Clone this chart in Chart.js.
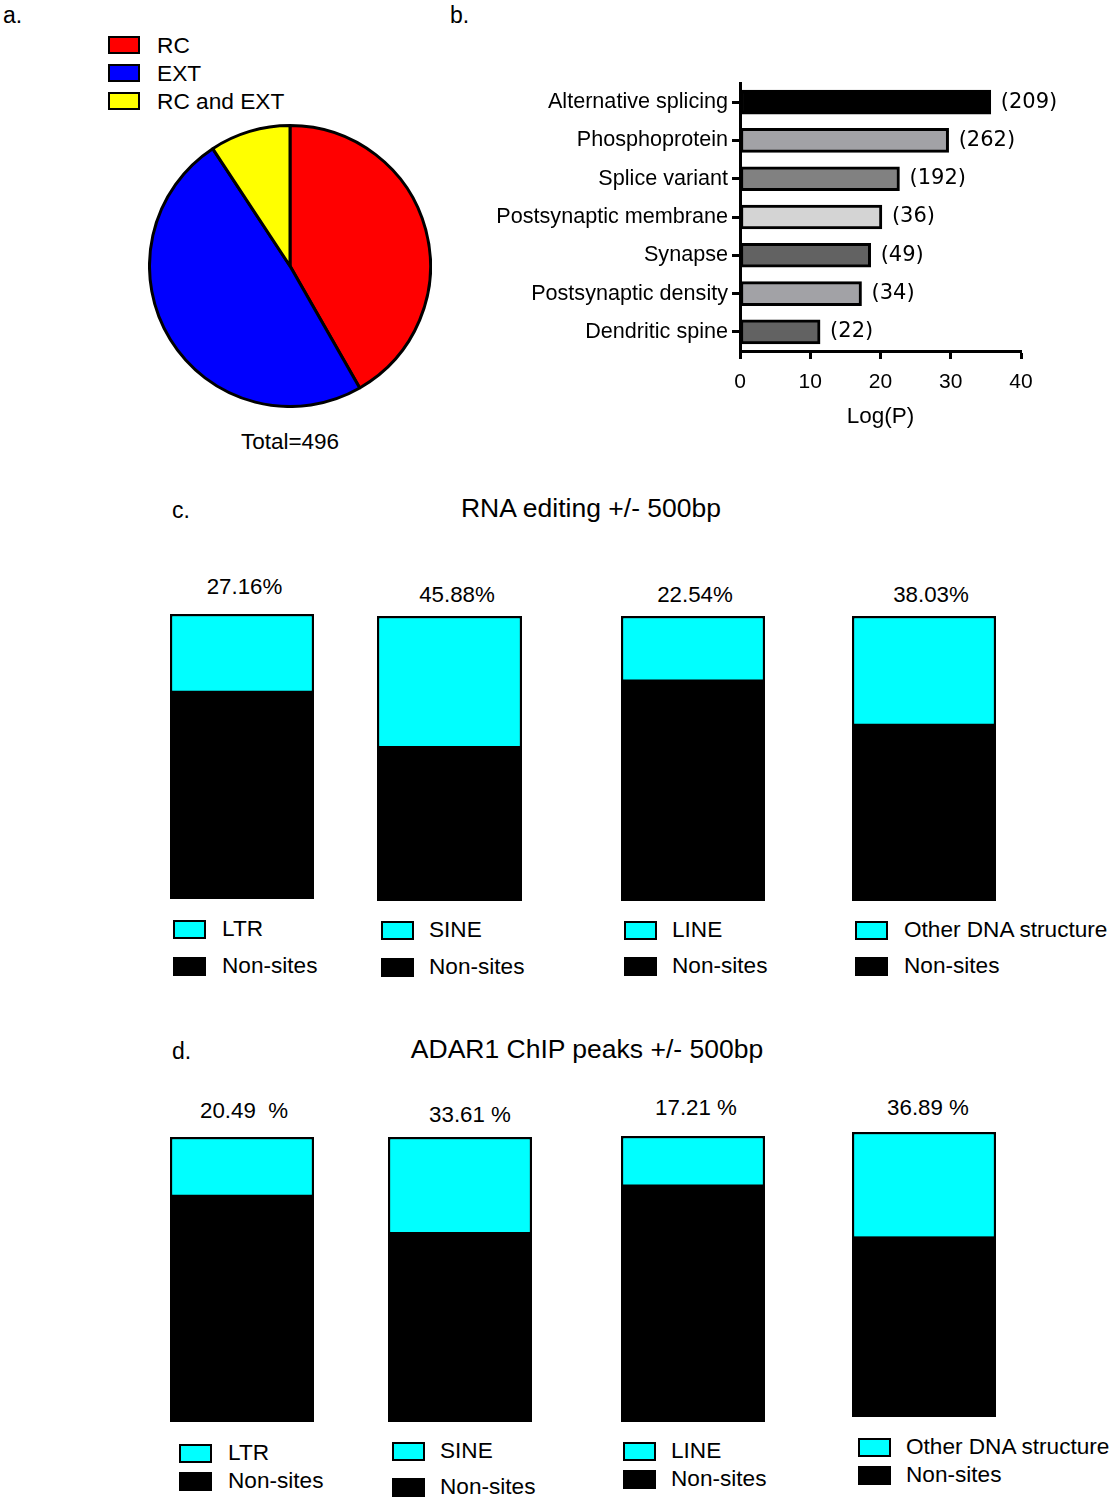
<!DOCTYPE html>
<html><head><meta charset="utf-8">
<script src="https://cdn.jsdelivr.net/npm/chart.js@4/dist/chart.umd.min.js"></script>
<style>
html,body{margin:0;padding:0;background:#fff;}
#page{position:relative;width:1112px;height:1500px;overflow:hidden;font-family:"Liberation Sans",Arial,sans-serif;color:#000;}
.t{position:absolute;white-space:pre;}
.box{position:absolute;box-sizing:border-box;border:2px solid #000;}
canvas{position:absolute;}
</style></head><body><div id="page"></div>
<script>
// ---------- DATA ----------
// Panel a
const pieLabels = ['RC', 'EXT', 'RC and EXT'];
const pieValues = [207, 243, 46];
const pieColors = ['#ff0000', '#0000ff', '#ffff00'];
const pieTotalText = 'Total=496';
// Panel b
const goTerms = ['Alternative splicing', 'Phosphoprotein', 'Splice variant', 'Postsynaptic membrane', 'Synapse', 'Postsynaptic density', 'Dendritic spine'];
const goLogP = [35.7, 29.7, 22.7, 20.2, 18.6, 17.3, 11.4];
const goCounts = [209, 262, 192, 36, 49, 34, 22];
const goColors = ['#000000', '#a2a2a6', '#818181', '#d4d4d4', '#626262', '#a2a2a6', '#626262'];
const logPTicks = [0, 10, 20, 30, 40];
const logPTitle = 'Log(P)';
// Panels c and d
const repeatClasses = ['LTR', 'SINE', 'LINE', 'Other DNA structure'];
const nonSiteLabel = 'Non-sites';
const editingTitle = 'RNA editing +/- 500bp';
const editingSites = [27.16, 45.88, 22.54, 38.03];
const editingNonSites = [72.84, 54.12, 77.46, 61.97];
const editingPctLabels = ['27.16%', '45.88%', '22.54%', '38.03%'];
const chipTitle = 'ADAR1 ChIP peaks +/- 500bp';
const chipSites = [20.49, 33.61, 17.21, 36.89];
const chipNonSites = [79.51, 66.39, 82.79, 63.11];
const chipPctLabels = ['20.49  %', '33.61 %', '17.21 %', '36.89 %'];

// ---------- LAYOUT ----------
const cBarBoxes = [[170,614,144,285],[377,616,145,285],[621,616,144,285],[852,616,144,285]];
const dBarBoxes = [[170,1137,144,285],[388,1137,144,285],[621,1136,144,286],[852,1132,144,285]];
const cPctPos = [[244.5,587],[457,595],[695,595],[931,595]];
const dPctPos = [[244,1111],[470,1115],[696,1108],[928,1108]];
// [boxX, siteY, nonY, textX]
const cLegPos = [[173,929,966,222],[381,930,967,429],[624,930,966,672],[855,930,966,904]];
const dLegPos = [[179,1453,1481,228],[392,1451,1487,440],[623,1451,1479,671],[858,1447,1475,906]];

// ---------- HELPERS ----------
const page = document.getElementById('page');
function text(str, x, cy, size, opts) {
  opts = opts || {};
  const d = document.createElement('div');
  d.className = 't';
  d.textContent = str;
  const lh = Math.round(size * 1.15);
  d.style.fontSize = size + 'px';
  d.style.lineHeight = lh + 'px';
  d.style.top = (cy - lh / 2) + 'px';
  d.style.left = x + 'px';
  if (opts.center) d.style.transform = 'translateX(-50%)';
  if (opts.font) d.style.fontFamily = opts.font;
  page.appendChild(d);
}
function box(x, cy, w, h, color) {
  const d = document.createElement('div');
  d.className = 'box';
  d.style.left = x + 'px'; d.style.top = (cy - h / 2) + 'px';
  d.style.width = w + 'px'; d.style.height = h + 'px';
  d.style.background = color;
  page.appendChild(d);
}
function makeCanvas(x, y, w, h) {
  const c = document.createElement('canvas');
  c.width = w; c.height = h;
  c.style.left = x + 'px'; c.style.top = y + 'px';
  c.style.width = w + 'px'; c.style.height = h + 'px';
  page.appendChild(c);
  return c;
}

Chart.defaults.font.family = '"Liberation Sans", Arial, sans-serif';
Chart.defaults.color = '#000';

// ---------- PANEL LABELS ----------
text('a.', 3, 15, 23);
text('b.', 450, 15, 23);
text('c.', 172, 510, 23);
text('d.', 172, 1051, 23);

// ---------- PANEL A: PIE ----------
pieLabels.forEach((lab, i) => {
  box(108, 45 + i * 28.2, 32, 18, pieColors[i]);
  text(lab, 157, 45 + i * 28.2, 22.7);
});
new Chart(makeCanvas(148, 124, 284, 284), {
  type: 'pie',
  data: { labels: pieLabels, datasets: [{ data: pieValues, backgroundColor: pieColors, borderColor: '#000', borderWidth: 3 }] },
  options: { responsive: false, devicePixelRatio: 1, animation: false, layout: { padding: 0 },
    plugins: { legend: { display: false }, tooltip: { enabled: false } } }
});
text(pieTotalText, 290, 442, 22.5, { center: true });

// ---------- PANEL B: HORIZONTAL BARS ----------
const countLabelPlugin = {
  id: 'countLabels',
  afterDatasetsDraw(chart) {
    const ctx = chart.ctx;
    const meta = chart.getDatasetMeta(0);
    ctx.save();
    ctx.font = '21px "DejaVu Sans"';
    ctx.fillStyle = '#000';
    ctx.textBaseline = 'middle';
    ctx.textAlign = 'left';
    meta.data.forEach((bar, i) => { ctx.fillText('(' + goCounts[i] + ')', bar.x + 10, bar.y); });
    ctx.restore();
  }
};
new Chart(makeCanvas(480, 60, 600, 380), {
  type: 'bar',
  data: { labels: goTerms, datasets: [{ data: goLogP, backgroundColor: goColors, borderColor: '#000', borderWidth: 3, borderSkipped: false, barThickness: 24 }] },
  options: {
    indexAxis: 'y', responsive: false, devicePixelRatio: 1, animation: false,
    layout: { padding: { left: 0, right: 59, top: 23, bottom: 6 } },
    plugins: { legend: { display: false }, tooltip: { enabled: false } },
    scales: {
      x: {
        type: 'linear', min: logPTicks[0], max: logPTicks[logPTicks.length - 1],
        afterBuildTicks(s) { s.ticks = logPTicks.map(v => ({ value: v })); },
        ticks: { font: { size: 21 }, color: '#000', padding: 11 },
        grid: { drawOnChartArea: false, drawTicks: true, tickLength: 8, tickWidth: 3, tickColor: '#000' },
        border: { display: true, color: '#000', width: 3 },
        title: { display: true, text: logPTitle, font: { size: 22.5 }, color: '#000', padding: { top: 4, bottom: 4 } },
        afterFit(s) { s.height = 83; }
      },
      y: {
        ticks: { font: { size: 21.6 }, color: '#000', padding: 4 },
        grid: { drawOnChartArea: false, offset: false, drawTicks: true, tickLength: 8, tickWidth: 3, tickColor: '#000' },
        border: { display: true, color: '#000', width: 3 },
        afterFit(s) { s.width = 260; }
      }
    }
  },
  plugins: [countLabelPlugin]
});

// ---------- PANELS C & D: STACKED BARS ----------
function stackedBar(b, cat, site, nonSite) {
  new Chart(makeCanvas(b[0], b[1], b[2], b[3]), {
    type: 'bar',
    data: {
      labels: [cat],
      datasets: [
        { label: nonSiteLabel, data: [nonSite], backgroundColor: '#000', borderColor: '#000', borderWidth: 0 },
        { label: cat, data: [site], backgroundColor: '#00ffff', borderColor: '#000',
          borderWidth: { top: 2.5, left: 2.5, right: 2.5, bottom: 1 }, borderSkipped: false }
      ]
    },
    options: {
      responsive: false, devicePixelRatio: 1, animation: false,
      layout: { padding: 0 },
      barPercentage: 1, categoryPercentage: 1,
      plugins: { legend: { display: false }, tooltip: { enabled: false } },
      scales: {
        x: { stacked: true, display: false },
        y: { stacked: true, display: false, min: 0, max: 100 }
      }
    }
  });
}
function section(title, titleX, titleY, boxes, pctPos, pctLabels, legPos, sites, nonSites) {
  text(title, titleX, titleY, 26.5, { center: true });
  repeatClasses.forEach((cat, i) => {
    stackedBar(boxes[i], cat, sites[i], nonSites[i]);
    text(pctLabels[i], pctPos[i][0], pctPos[i][1], 22.3, { center: true });
    const L = legPos[i];
    box(L[0], L[1], 33, 19, '#00ffff');
    text(cat, L[3], L[1], 22.6);
    box(L[0], L[2], 33, 19, '#000');
    text(nonSiteLabel, L[3], L[2], 22.6);
  });
}
section(editingTitle, 591, 508, cBarBoxes, cPctPos, editingPctLabels, cLegPos, editingSites, editingNonSites);
section(chipTitle, 587, 1049, dBarBoxes, dPctPos, chipPctLabels, dLegPos, chipSites, chipNonSites);
</script>
</body></html>
